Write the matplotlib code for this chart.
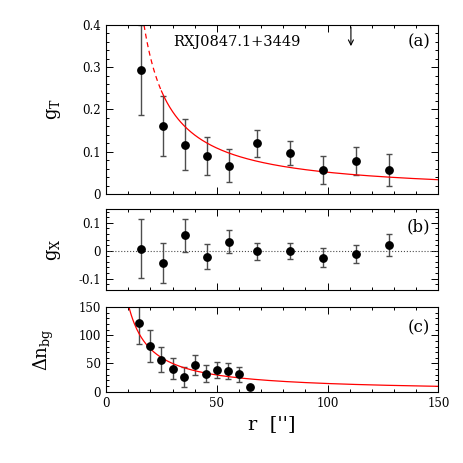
import matplotlib
matplotlib.use('Agg')
import matplotlib.pyplot as plt
import numpy as np
from matplotlib.ticker import MultipleLocator

# data
r_shear = [15.8, 25.6, 35.7, 45.5, 55.4, 68.0, 82.9, 97.8, 112.8, 127.9]
gT = [0.294, 0.160, 0.117, 0.091, 0.067, 0.120, 0.097, 0.057, 0.079, 0.057]
gT_err = [0.107, 0.071, 0.060, 0.045, 0.039, 0.032, 0.029, 0.033, 0.033, 0.038]
gX = [0.007, -0.045, 0.055, -0.021, 0.033, -0.002, -0.002, -0.026, -0.012, 0.021]
gX_err = [0.105, 0.071, 0.060, 0.045, 0.040, 0.031, 0.029, 0.034, 0.033, 0.039]

r_dens = [15, 20, 25, 30, 35, 40, 45, 50, 55, 60, 65]
dn = [121, 81, 57, 41, 26, 47, 32, 38, 37, 31, 8]
dn_err = [36, 28, 23, 19, 17, 17.5, 15, 14.5, 14, 13, 4]

# model curves: SIS reduced shear, and power law for the density
a_sis = 4.9
A_dens = 1662.0
p_dens = 1.03

plt.rcParams['font.family'] = ['DejaVu Serif']
plt.rcParams['mathtext.fontset'] = 'dejavuserif'

fig = plt.figure(figsize=(4.63, 4.63), dpi=100)
L, W = 0.229, 0.718
ax1 = fig.add_axes([L, 0.581, W, 0.365])
ax2 = fig.add_axes([L, 0.374, W, 0.175])
ax3 = fig.add_axes([L, 0.154, W, 0.183])

ebkw = dict(fmt='o', color='black', ms=5.3, ecolor='0.3', elinewidth=1.0,
            capsize=2.5, capthick=1.0)
fmt0 = plt.FuncFormatter(lambda v, p: '0' if abs(v) < 1e-9 else '%.1f' % v)

for ax in (ax1, ax2, ax3):
    ax.set_xlim(0, 150)
    ax.xaxis.set_major_locator(MultipleLocator(50))
    ax.xaxis.set_minor_locator(MultipleLocator(10))
    ax.tick_params(which='both', direction='in', top=True, right=True,
                   labelsize=8.5, width=0.7)
    ax.tick_params(which='major', length=5)
    ax.tick_params(which='minor', length=2.5)
    for s in ax.spines.values():
        s.set_linewidth(0.8)

# (a)
ax1.errorbar(r_shear, gT, yerr=gT_err, **ebkw)
r0 = a_sis * 1.4 / 0.4
rd = np.linspace(r0, 25, 50)
rs = np.linspace(25, 150, 300)
ax1.plot(rd, a_sis / (rd - a_sis), color='red', lw=0.9, ls=(0, (4, 3)))
ax1.plot(rs, a_sis / (rs - a_sis), color='red', lw=0.9)
ax1.set_ylim(0, 0.4)
ax1.yaxis.set_major_locator(MultipleLocator(0.1))
ax1.yaxis.set_minor_locator(MultipleLocator(0.02))
ax1.yaxis.set_major_formatter(fmt0)
ax1.set_xticklabels([])
ax1.set_ylabel(r'$\mathrm{g_T}$', fontsize=13)
ax1.text(59, 0.36, 'RXJ0847.1+3449', fontsize=10.5, ha='center', va='center')
ax1.text(0.975, 0.9, '(a)', transform=ax1.transAxes, fontsize=12, ha='right', va='center')
ax1.annotate('', xy=(110.5, 0.35), xytext=(110.5, 0.395),
             arrowprops=dict(arrowstyle='->', lw=0.8, color='black',
                             shrinkA=0, shrinkB=0, mutation_scale=9))

# (b)
ax2.errorbar(r_shear, gX, yerr=gX_err, **ebkw)
ax2.axhline(0, color='0.3', lw=0.8, ls=':')
ax2.set_ylim(-0.14, 0.15)
ax2.yaxis.set_major_locator(MultipleLocator(0.1))
ax2.yaxis.set_minor_locator(MultipleLocator(0.02))
ax2.yaxis.set_major_formatter(fmt0)
ax2.set_xticklabels([])
ax2.set_ylabel(r'$\mathrm{g_X}$', fontsize=13)
ax2.text(0.975, 0.78, '(b)', transform=ax2.transAxes, fontsize=12, ha='right', va='center')

# (c)
ax3.errorbar(r_dens, dn, yerr=dn_err, **ebkw)
rc = np.linspace(10, 150, 400)
ax3.plot(rc, A_dens / rc ** p_dens, color='red', lw=0.9)
ax3.set_ylim(0, 150)
ax3.yaxis.set_major_locator(MultipleLocator(50))
ax3.yaxis.set_minor_locator(MultipleLocator(10))
ax3.set_ylabel(r'$\Delta\mathrm{n_{bg}}$', fontsize=13)
ax3.text(0.975, 0.75, '(c)', transform=ax3.transAxes, fontsize=12, ha='right', va='center')
ax3.set_xlabel("r  ['']", fontsize=14)

ax1.yaxis.set_label_coords(-0.13, 0.5)
ax2.yaxis.set_label_coords(-0.13, 0.5)
ax3.yaxis.set_label_coords(-0.15, 0.5)

fig.savefig('out.png', dpi=100)
